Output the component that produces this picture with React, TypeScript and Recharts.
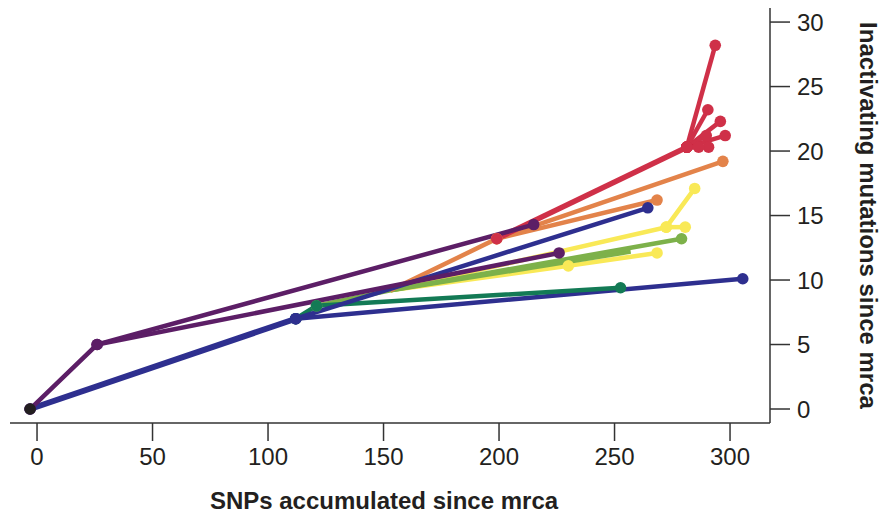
import React from "react";
import { LineChart, Line, XAxis, YAxis } from "recharts";

type P = { x: number; y: number };

// x = SNPs accumulated since mrca, y = inactivating mutations since mrca
const rootPoint: P[] = [{ x: -3, y: 0 }];

const purpleBranchA: P[] = [{ x: -3, y: 0 }, { x: 26, y: 5 }, { x: 215, y: 14.3 }];
const purpleBranchB: P[] = [{ x: 26, y: 5 }, { x: 226, y: 12.1 }];

const navyStem: P[] = [{ x: -3, y: 0 }, { x: 112, y: 7 }];
const navyBranchA: P[] = [{ x: 112, y: 7 }, { x: 264.4, y: 15.6 }];
const navyBranchB: P[] = [{ x: 112, y: 7 }, { x: 305.5, y: 10.1 }];

const darkGreenBranch: P[] = [{ x: 112, y: 7 }, { x: 121, y: 8 }, { x: 252.6, y: 9.4 }];

const lightGreenBranchA: P[] = [{ x: 121, y: 8 }, { x: 153, y: 9.2 }, { x: 279, y: 13.2 }];
const lightGreenBranchB: P[] = [{ x: 153, y: 9.2 }, { x: 257, y: 12.2 }];

const yellowBranchA: P[] = [{ x: 153, y: 9.2 }, { x: 230, y: 11.1 }, { x: 268.4, y: 12.1 }];
const yellowBranchB: P[] = [{ x: 153, y: 9.2 }, { x: 272.4, y: 14.1 }, { x: 284.7, y: 17.1 }];
const yellowBranchC: P[] = [{ x: 272.4, y: 14.1 }, { x: 280.6, y: 14.1 }];

const orangeBranchA: P[] = [{ x: 153, y: 9.2 }, { x: 199, y: 13.2 }, { x: 268.4, y: 16.2 }];
const orangeBranchB: P[] = [{ x: 199, y: 13.2 }, { x: 296.9, y: 19.2 }];

const redStem: P[] = [{ x: 199, y: 13.2 }, { x: 281.3, y: 20.3 }];
const redNode: P = { x: 281.3, y: 20.3 };
const redTips: P[] = [
  { x: 293.6, y: 28.2 },
  { x: 290.4, y: 23.2 },
  { x: 295.8, y: 22.3 },
  { x: 297.9, y: 21.2 },
  { x: 289.7, y: 21.2 },
  { x: 290.7, y: 20.3 },
  { x: 286.4, y: 20.3 },
];

// internal node drawn without a dot
const hiddenNodes: P[] = [{ x: 153, y: 9.2 }];

const xTicks = [0, 50, 100, 150, 200, 250, 300];
const yTicks = [0, 5, 10, 15, 20, 25, 30];

const RED = "#CF3048";
const ORANGE = "#E3834A";
const YELLOW = "#F9E957";
const LGREEN = "#7DB14A";
const DGREEN = "#137A55";
const NAVY = "#2E2F8F";
const PURPLE = "#5C1E66";
const BLACK = "#231F20";

const FONT = "'Liberation Sans', Arial, Helvetica, sans-serif";

function isHidden(p: P) {
  return hiddenNodes.some((h) => h.x === p.x && h.y === p.y);
}

function branch(key: string, data: P[], color: string, dots = true, width = 4.5) {
  const dot = dots
    ? (props: any) => {
        const { cx, cy, payload, index } = props;
        if (!payload || isHidden(payload) || cx == null || cy == null) {
          return <g key={`${key}-d-${index}`} />;
        }
        return <circle key={`${key}-d-${index}`} cx={cx} cy={cy} r={5.8} fill={color} stroke="none" />;
      }
    : false;
  return (
    <Line
      key={key}
      data={data}
      dataKey="y"
      type="linear"
      stroke={color}
      strokeWidth={width}
      dot={dot as any}
      activeDot={false}
      isAnimationActive={false}
    />
  );
}

const YLabel = (props: any) => {
  const vb = props.viewBox || {};
  const x = (vb.x ?? 770) + (vb.width ?? 110) - 12;
  const y = (vb.y ?? 8) + (vb.height ?? 415) / 2;
  return (
    <text
      x={x}
      y={y}
      transform={`rotate(90, ${x}, ${y})`}
      textAnchor="middle"
      dominantBaseline="central"
      fontFamily={FONT}
      fontWeight="bold"
      fontSize={24}
      fill="#231F20"
    >
      Inactivating mutations since mrca
    </text>
  );
};

const XLabel = (props: any) => {
  const vb = props.viewBox || {};
  const x = (vb.x ?? 10) + (vb.width ?? 760) / 2 - 6;
  const y = (vb.y ?? 423) + 77;
  return (
    <text
      x={x}
      y={y}
      textAnchor="middle"
      dominantBaseline="central"
      fontFamily={FONT}
      fontWeight="bold"
      fontSize={24}
      fill="#231F20"
    >
      SNPs accumulated since mrca
    </text>
  );
};

export default function App() {
  return (
    <div style={{ position: "absolute", left: 0, top: 0, background: "#fff" }}>
      <LineChart
        width={880}
        height={517}
        margin={{ top: 8, right: 0, bottom: 0, left: 10 }}
      >
        <XAxis
          type="number"
          dataKey="x"
          domain={[-11.7, 317.3]}
          ticks={xTicks}
          allowDataOverflow
          height={94}
          tickSize={18}
          tickMargin={7}
          stroke="#333"
          strokeWidth={1.5}
          tick={{ fontSize: 24, fill: "#231F20", fontFamily: FONT }}
          label={<XLabel />}
        />
        <YAxis
          type="number"
          orientation="right"
          domain={[-1.085, 31.09]}
          ticks={yTicks}
          allowDataOverflow
          width={110}
          tickSize={20}
          tickMargin={7}
          stroke="#333"
          strokeWidth={1.5}
          tick={{ fontSize: 24, fill: "#231F20", fontFamily: FONT }}
          label={<YLabel />}
        />
        {branch("y-a", yellowBranchA, YELLOW)}
        {branch("y-b", yellowBranchB, YELLOW)}
        {branch("y-c", yellowBranchC, YELLOW)}
        {branch("lg-b", lightGreenBranchB, LGREEN, false)}
        {branch("lg-a", lightGreenBranchA, LGREEN)}
        {branch("o-a", orangeBranchA, ORANGE)}
        {branch("o-b", orangeBranchB, ORANGE)}
        {branch("r-stem", redStem, RED, true, 5.5)}
        {redTips.map((t, i) => branch(`r-${i}`, [redNode, t], RED))}
        {branch("n-b", navyBranchB, NAVY)}
        {branch("dg", darkGreenBranch, DGREEN)}
        {branch("n-stem", navyStem, NAVY, true, 6)}
        {branch("n-a", navyBranchA, NAVY)}
        {branch("p-a", purpleBranchA, PURPLE)}
        {branch("p-b", purpleBranchB, PURPLE)}
        {branch("root", rootPoint, BLACK)}
      </LineChart>
    </div>
  );
}
